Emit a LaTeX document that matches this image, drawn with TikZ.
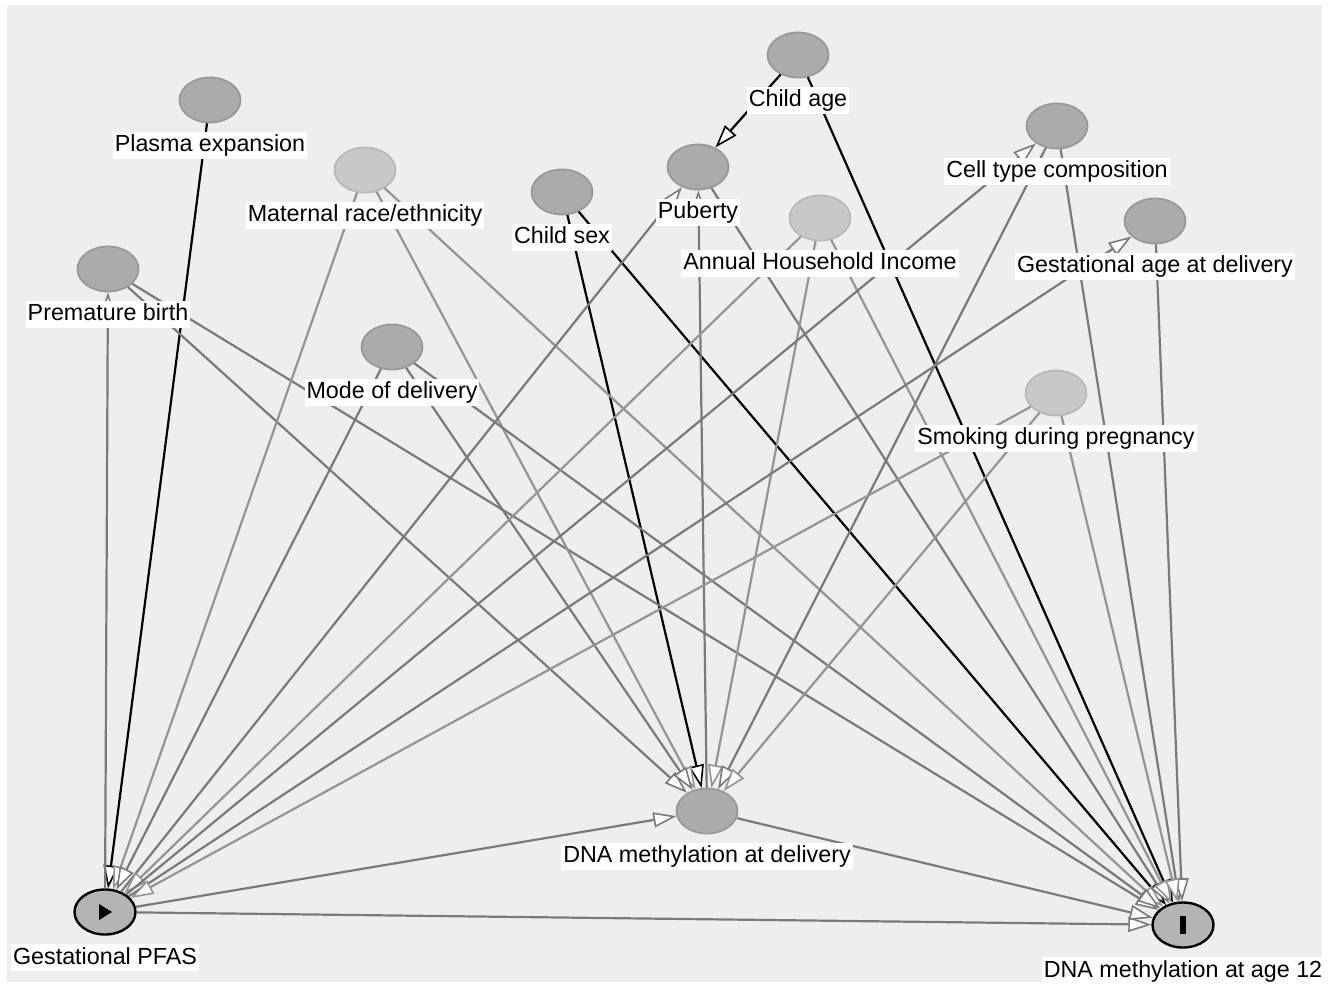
\documentclass[tikz,border=0pt]{standalone}
\usepackage{fontspec}
\setmainfont{Liberation Sans}
\usetikzlibrary{arrows.meta,positioning,shapes.geometric}
\definecolor{bggray}{RGB}{238,238,238}
\definecolor{nodedark}{RGB}{171,171,171}
\definecolor{nodedarkline}{RGB}{152,152,152}
\definecolor{nodelight}{RGB}{200,200,200}
\definecolor{nodelightline}{RGB}{184,184,184}
\definecolor{nodeio}{RGB}{180,180,180}
\definecolor{edgedark}{RGB}{122,122,122}
\definecolor{edgelight}{RGB}{148,148,148}

\begin{document}
\begin{tikzpicture}[x=0.5pt, y=-0.5pt, font=\fontsize{11.65}{13}\selectfont,
  var/.style={ellipse, draw=nodedarkline, fill=nodedark, line width=0.9pt, minimum width=30.5pt, minimum height=22.5pt, inner sep=0pt},
  varlight/.style={var, draw=nodelightline, fill=nodelight},
  varmain/.style={var, draw=black, fill=nodeio, line width=1.2pt},
  lbl/.style={fill=white, inner xsep=1pt, inner ysep=1pt, text height=9pt, text depth=2.5pt, below=4pt of #1},
  edge/.style={draw=edgedark, line width=1.1pt, -{Triangle[length=11.5pt, width=7.5pt, fill=white, line width=0.8pt]}},
  edgelight/.style={edge, draw=edgelight},
  edgeblack/.style={edge, draw=black}]
\useasboundingbox (0,0) rectangle (1329,987);
\fill[white] (0,0) rectangle (1329,987);
\fill[bggray] (7,5) rectangle (1322,982);

% variables
\node[var] (plasma) at (210,100) {};
\node[varlight] (race) at (365,170) {};
\node[var] (sex) at (562,192) {};
\node[var] (age) at (798,55) {};
\node[var] (puberty) at (698,167) {};
\node[var] (cell) at (1057,126) {};
\node[varlight] (income) at (820,218) {};
\node[var] (gest) at (1155,221) {};
\node[var] (premature) at (108,269) {};
\node[var] (mode) at (392,347) {};
\node[varlight] (smoking) at (1056,393) {};
\node[var] (dnadel) at (707,811) {};
\node[varmain] (pfas) at (105,912) {};
\node[varmain] (dna12) at (1183,925) {};
\fill (pfas) ++(-6,-8) -- ++(0,16) -- ++(13,-8) -- cycle;
\fill (dna12) ++(-3,-9) rectangle ++(6,18);

% edges
\draw[edgeblack] (plasma) -- (pfas);
\draw[edgeblack] (age) -- (puberty);
\draw[edgeblack] (age) -- (dna12);
\draw[edgeblack] (sex) -- (dnadel);
\draw[edgeblack] (sex) -- (dna12);
\draw[edge] (pfas) -- (premature);
\draw[edge] (premature) -- (dnadel);
\draw[edge] (premature) -- (dna12);
\draw[edgelight] (race) -- (pfas);
\draw[edgelight] (race) -- (dnadel);
\draw[edgelight] (race) -- (dna12);
\draw[edge] (mode) -- (pfas);
\draw[edge] (mode) -- (dnadel);
\draw[edge] (mode) -- (dna12);
\draw[edge] (pfas) -- (puberty);
\draw[edge] (dnadel) -- (puberty);
\draw[edge] (puberty) -- (dna12);
\draw[edgelight] (income) -- (pfas);
\draw[edgelight] (income) -- (dnadel);
\draw[edgelight] (income) -- (dna12);
\draw[edge] (pfas) -- (cell);
\draw[edge] (cell) -- (dnadel);
\draw[edge] (cell) -- (dna12);
\draw[edge] (pfas) -- (gest);
\draw[edge] (gest) -- (dna12);
\draw[edgelight] (smoking) -- (pfas);
\draw[edgelight] (smoking) -- (dnadel);
\draw[edgelight] (smoking) -- (dna12);
\draw[edge] (pfas) -- (dnadel);
\draw[edge] (pfas) -- (dna12);
\draw[edge] (dnadel) -- (dna12);

% labels
\node[lbl=plasma] (lplasma) {Plasma expansion};
\node[lbl=race] (lrace) {Maternal race/ethnicity};
\node[lbl=sex] (lsex) {Child sex};
\node[lbl=age] (lage) {Child age};
\node[lbl=puberty] (lpuberty) {Puberty};
\node[lbl=cell] (lcell) {Cell type composition};
\node[lbl=income] (lincome) {Annual Household Income};
\node[lbl=gest] (lgest) {Gestational age at delivery};
\node[lbl=premature] (lpremature) {Premature birth};
\node[lbl=mode] (lmode) {Mode of delivery};
\node[lbl=smoking] (lsmoking) {Smoking during pregnancy};
\node[lbl=dnadel] (ldnadel) {DNA methylation at delivery};
\node[lbl=pfas] (lpfas) {Gestational PFAS};
\node[lbl=dna12] (ldna12) {DNA methylation at age 12};
\end{tikzpicture}
\end{document}
